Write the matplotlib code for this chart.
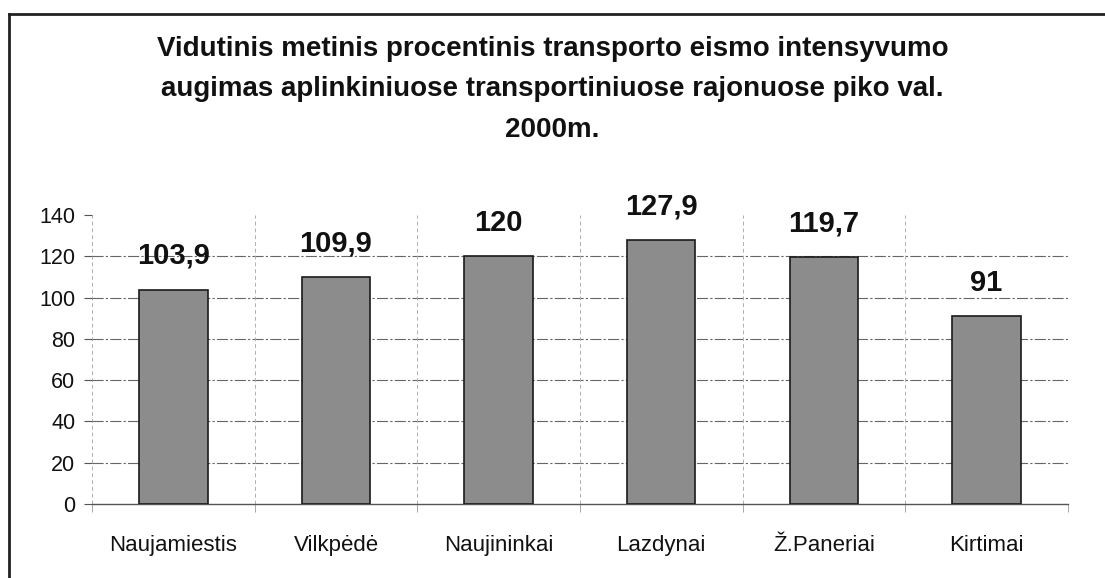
import numpy as np
import matplotlib
matplotlib.use('Agg')
import matplotlib.pyplot as plt
from matplotlib.lines import Line2D

plt.rcParams['font.family'] = ['Liberation Sans', 'DejaVu Sans']

# data
districts = ['Naujamiestis', 'Vilkpėdė', 'Naujininkai', 'Lazdynai', 'Ž.Paneriai', 'Kirtimai']
growth = [103.9, 109.9, 120, 127.9, 119.7, 91]
value_labels = ['103,9', '109,9', '120', '127,9', '119,7', '91']
y_ticks = [0, 20, 40, 60, 80, 100, 120, 140]

title = ('Vidutinis metinis procentinis transporto eismo intensyvumo\n'
         'augimas aplinkiniuose transportiniuose rajonuose piko val.\n'
         '2000m.')

fig = plt.figure(figsize=(11.05, 5.78), dpi=100)
ax = fig.add_axes([0.0833, 0.128, 0.883, 0.500])

x = np.arange(len(districts))
ax.bar(x, growth, width=0.42, color='#8c8c8c', edgecolor='#1a1a1a', linewidth=1.2, zorder=3)

for xi, v, lab in zip(x, growth, value_labels):
    ax.text(xi, v + 9.5, lab, ha='center', va='bottom', fontsize=21, fontweight='bold', color='#111111')

ax.set_xlim(-0.5, len(districts) - 0.5)
ax.set_ylim(0, 140)
ax.set_yticks(y_ticks)
ax.set_yticklabels([str(t) for t in y_ticks], fontsize=15.5, color='#111111')
ax.set_xticks(x)
ax.set_xticklabels(districts, fontsize=16, color='#111111')
ax.tick_params(axis='x', length=0, pad=22)
ax.tick_params(axis='y', length=6, width=0.8, pad=6, color='#555555')

# vertical grid at category boundaries, horizontal grid below the top tick
ax.set_xticks(np.arange(len(districts) + 1) - 0.5, minor=True)
ax.tick_params(axis='x', which='minor', length=6, color='#999999')
ax.grid(axis='x', which='minor', color='#b0b0b0', linestyle=(0, (4, 3)), linewidth=0.7, zorder=0)
ax.grid(axis='x', which='major', visible=False)
ax.hlines(y_ticks[1:-1], -0.5, len(districts) - 0.5, colors='#666666',
          linestyles=(0, (10, 2, 2, 2)), linewidth=0.8, zorder=1)

for s in ['top', 'right', 'left']:
    ax.spines[s].set_visible(False)
ax.spines['bottom'].set_color('#555555')
ax.spines['bottom'].set_linewidth(1.0)

fig.text(0.5, 0.938, title, ha='center', va='top', fontsize=20, fontweight='bold',
         linespacing=1.72, color='#111111')

# frame of the scanned chart (left and top edges only)
fig.add_artist(Line2D([0.008, 0.008], [0.0, 0.976], transform=fig.transFigure, color='#222222', linewidth=2))
fig.add_artist(Line2D([0.008, 1.0], [0.976, 0.976], transform=fig.transFigure, color='#222222', linewidth=2))

fig.savefig('out.png', dpi=100)
